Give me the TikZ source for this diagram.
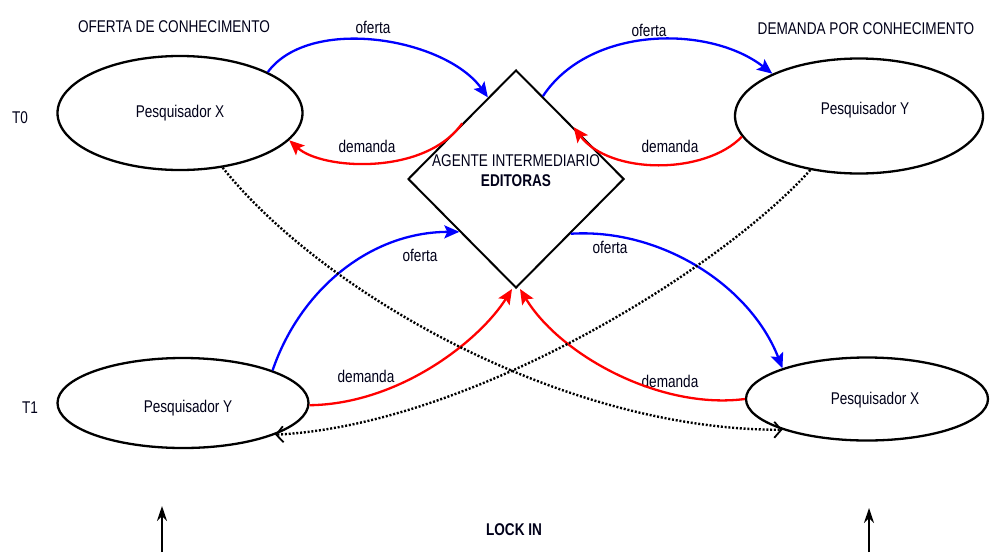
\documentclass[tikz,border=0pt]{standalone}
\usepackage{fontspec}
\setmainfont{Liberation Sans}[FakeStretch=0.8]
\usetikzlibrary{shapes.geometric,arrows.meta}
\begin{document}
\begin{tikzpicture}[x=1pt,y=-1pt,
  every node/.style={font=\fontsize{17}{20}\selectfont, text=black!90!blue},
  ell/.style={ellipse, draw, line width=2.3, inner sep=0pt},
  agbox/.style={diamond, draw, line width=2, inner sep=0pt, minimum width=216, minimum height=218},
  lbl/.style={inner sep=1pt},
  ofe/.style={draw=blue, line width=2.3, -{Stealth[length=15,width=13,inset=3]}},
  dem/.style={draw=red, line width=2.3, -{Stealth[length=15,width=13,inset=3]}},
  dots/.style={draw=black, line width=2.4, dash pattern=on 2pt off 1.8pt, -{Straight Barb[length=7,width=16,line width=1.8]}},
  uparr/.style={draw=black, line width=1.9, -{Stealth[length=15,width=10]}}
]
\useasboundingbox (0,0) rectangle (990,552);
\fill[white] (0,0) rectangle (990,552);

% nodes
\node[ell, minimum width=245, minimum height=114] (pxa) at (180,113) {};
\node[ell, minimum width=248, minimum height=115] (pya) at (859,116) {};
\node[ell, minimum width=251, minimum height=90] (pyb) at (183,403) {};
\node[ell, minimum width=242, minimum height=83] (pxb) at (867,399) {};
\node[agbox] (ag) at (516,179) {};

\node[lbl] (txa) at (180,113) {Pesquisador X};
\node[lbl] (tya) at (865,110) {Pesquisador Y};
\node[lbl] (tyb) at (188,408) {Pesquisador Y};
\node[lbl] (txb) at (875,400) {Pesquisador X};
\node[lbl, align=center] (tag) at (516,171) {AGENTE INTERMEDIARIO\\[0pt]\textbf{EDITORAS}};

\node[lbl] (hof) at (174,27) {OFERTA DE CONHECIMENTO};
\node[lbl] (hdem) at (866,29) {DEMANDA POR CONHECIMENTO};
\node[lbl] (t0) at (20,118) {T0};
\node[lbl] (t1) at (30,408) {T1};
\node[lbl] (lock) at (514,530) {\textbf{LOCK IN}};

\node[lbl] (l1) at (373,27) {oferta};
\node[lbl] (l2) at (367,146) {demanda};
\node[lbl] (l3) at (649,30) {oferta};
\node[lbl] (l4) at (670,146) {demanda};
\node[lbl] (l5) at (420,255) {oferta};
\node[lbl] (l6) at (610,247) {oferta};
\node[lbl] (l7) at (366,376) {demanda};
\node[lbl] (l8) at (670,381) {demanda};

% top connectors
\draw[ofe] (pxa.25) .. controls (310,15) and (445,38) .. (ag.109);
\draw[dem] (ag.134) .. controls (425,176) and (322,170) .. (pxa.-14);
\draw[ofe] (ag.72) .. controls (590,25) and (710,25) .. (pya.154);
\draw[dem] (pya.190) .. controls (705,175) and (610,175) .. (ag.42);

% lower connectors
\draw[ofe] (pyb.20) .. controls (300,290) and (370,232) .. (ag.223);
\draw[ofe] (ag.-45) .. controls (660,228) and (750,285) .. (pxb.160);
\draw[dem] (pyb.-1) .. controls (400,404) and (480,340) .. ([xshift=-4pt]ag.south);
\draw[dem] (pxb.west) .. controls (660,410) and (560,355) .. ([xshift=4pt]ag.south);

% dotted connectors
\draw[dots] (pxa.-52) .. controls (320,290) and (560,430) .. (pxb.200);
\draw[dots] (pya.228) .. controls (720,270) and (470,425) .. (pyb.-19);

% bottom arrows
\coordinate (b1) at (162,552);
\coordinate (b1t) at (162,506);
\coordinate (b2) at (869,552);
\coordinate (b2t) at (869,508);
\draw[uparr] (b1) -- (b1t);
\draw[uparr] (b2) -- (b2t);
\end{tikzpicture}
\end{document}
